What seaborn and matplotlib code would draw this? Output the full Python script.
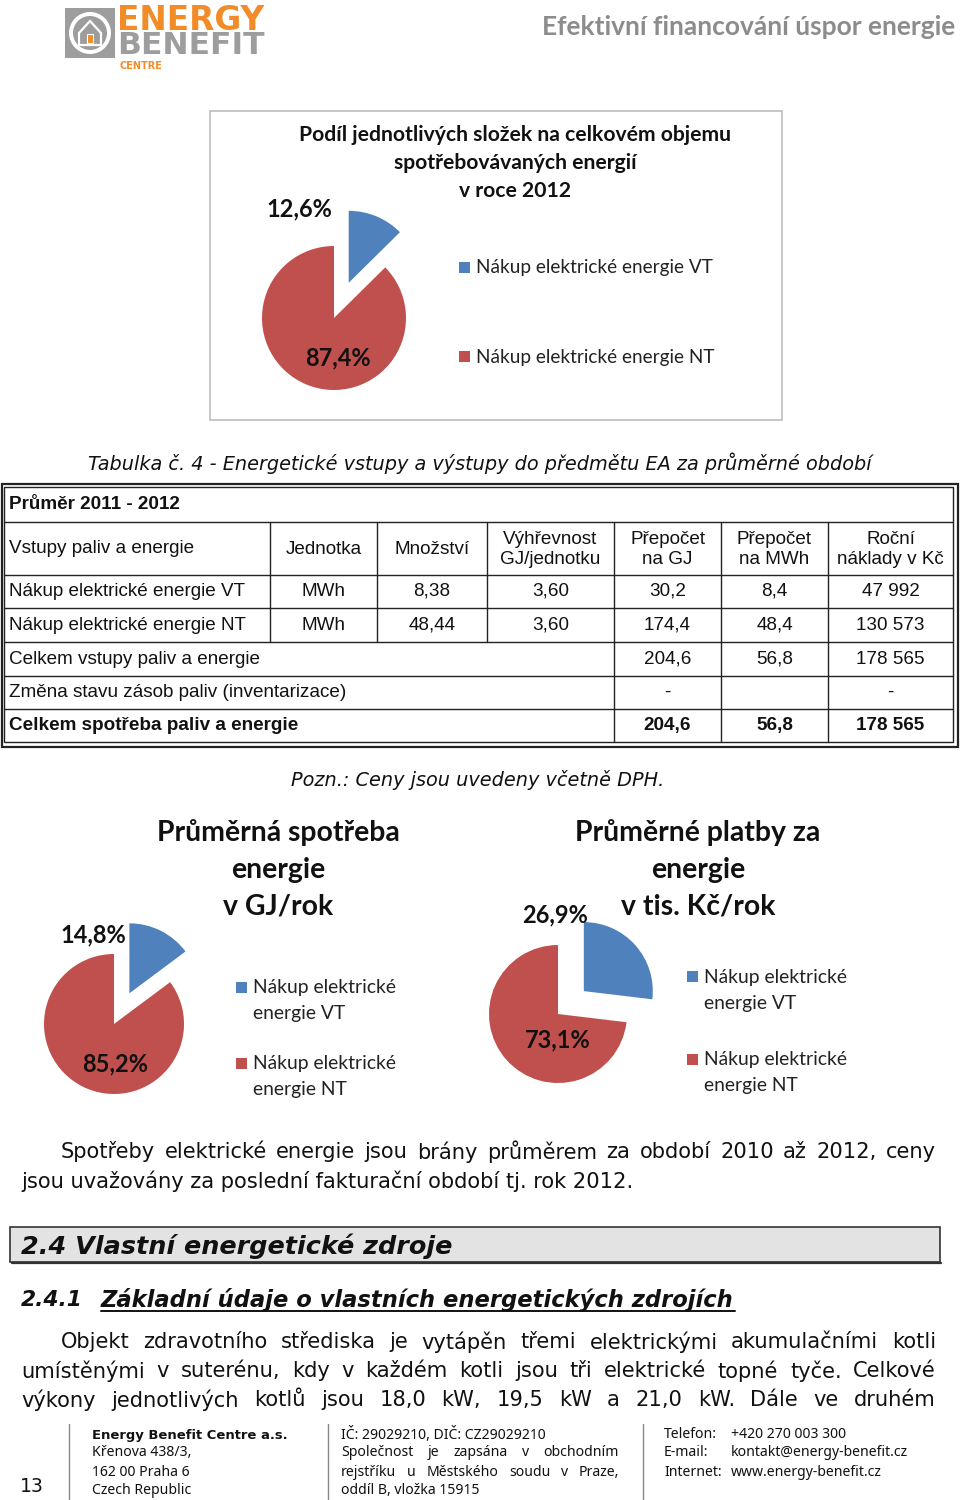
import matplotlib
matplotlib.use("Agg")
import matplotlib.pyplot as plt
import seaborn as sns
from matplotlib.patches import Rectangle, Circle, Polygon
from matplotlib.lines import Line2D

# --- data -----------------------------------------------------------------
pie_labels = ["Nákup elektrické energie VT", "Nákup elektrické energie NT"]
share_total = [12.6, 87.4]      # podíl na celkovém objemu, 2012
share_gj = [14.8, 85.2]         # průměrná spotřeba v GJ/rok
share_cost = [26.9, 73.1]       # průměrné platby v tis. Kč/rok

table_header = ["Vstupy paliv a energie", "Jednotka", "Množství",
                "Výhřevnost\nGJ/jednotku", "Přepočet\nna GJ", "Přepočet\nna MWh",
                "Roční\nnáklady v Kč"]
row_vt = ["Nákup elektrické energie VT", "MWh", "8,38", "3,60", "30,2", "8,4", "47 992"]
row_nt = ["Nákup elektrické energie NT", "MWh", "48,44", "3,60", "174,4", "48,4", "130 573"]
row_total_in = ["Celkem vstupy paliv a energie", "204,6", "56,8", "178 565"]
row_change = ["Změna stavu zásob paliv (inventarizace)", "-", "", "-"]
row_total = ["Celkem spotřeba paliv a energie", "204,6", "56,8", "178 565"]

W, H = 960, 1500
sns.set_theme(style="white")
plt.rcParams["font.family"] = ["DejaVu Sans"]
pie_colors = sns.color_palette(["#4F81BD", "#C0504D"])
CHART_FONT = "Lato"
TABLE_FONT = "Liberation Sans"
HEAD_FONT = "DejaVu Sans"
FOOT_FONT = "Noto Sans"
INK = "#111111"

fig = plt.figure(figsize=(W / 100, H / 100), dpi=100)
bg = fig.add_axes([0, 0, 1, 1])
bg.set_xlim(0, W)
bg.set_ylim(H, 0)
bg.axis("off")
bg.set_zorder(2)  # text layer above the pie axes
renderer = fig.canvas.get_renderer()


def put(x, y, s, size=12, width=None, **kw):
    kw.setdefault("va", "center")
    t = bg.text(x, y, s, fontsize=size, **kw)
    if width:
        w = t.get_window_extent(renderer).width
        t.set_fontsize(size * width / w)
    return t


def fit_size(s, width, **kw):
    t = bg.text(0, 0, s, fontsize=10, **kw)
    w = t.get_window_extent(renderer).width
    t.remove()
    return 10 * width / w


def justify(line, x0, x1, y, size, **kw):
    words = line.split()
    arts = [bg.text(0, y, w, fontsize=size, va="center", ha="left", **kw) for w in words]
    widths = [a.get_window_extent(renderer).width for a in arts]
    gap = (x1 - x0 - sum(widths)) / max(len(words) - 1, 1)
    x = x0
    for a, w in zip(arts, widths):
        a.set_x(x)
        x += w + gap


def hline(x0, x1, y, lw=1, color="#222222"):
    bg.add_line(Line2D([x0, x1], [y, y], lw=lw, color=color))


def vline(x, y0, y1, lw=1, color="#222222"):
    bg.add_line(Line2D([x, x], [y0, y1], lw=lw, color=color))


def draw_pie(cx, cy, r, values, explode=0.5):
    ax = fig.add_axes([(cx - 2 * r) / W, 1 - (cy + 2 * r) / H, 4 * r / W, 4 * r / H])
    ax.set_zorder(1)
    ax.pie(values, colors=pie_colors, startangle=90, counterclock=False,
           explode=[explode, 0], wedgeprops=dict(linewidth=0))
    ax.set_xlim(-2, 2)
    ax.set_ylim(-2, 2)
    ax.set_aspect("auto")
    ax.axis("off")
    return ax


def pct(v):
    return f"{v:.1f}%".replace(".", ",")


# --- header / logo ----------------------------------------------------------
orange = "#F28C28"
gray = "#9D9D9D"
bg.add_patch(Rectangle((65, 8), 50, 50, color=gray, lw=0))
bg.add_patch(Circle((90, 33), 21, color="white", lw=0))
bg.add_patch(Circle((90, 33), 17, color=gray, lw=0))
bg.add_patch(Polygon([[79, 33], [90, 21], [101, 33], [101, 45], [79, 45]],
                     closed=True, fc=gray, ec="white", lw=1.6))
bg.add_patch(Rectangle((87, 34), 6, 9, fc=orange, ec="white", lw=0.8))
put(191, 20, "ENERGY", 20, width=147, ha="center", color=orange, weight="bold")
put(191, 46, "BENEFIT", 20, width=147, ha="center", color=gray, weight="bold")
put(141, 66, "CENTRE", 7, width=43, ha="center", color=orange, weight="bold")
put(955, 27, "Efektivní financování úspor energie", 13, width=415, ha="right",
    color="#8C8C8C", weight="bold", family=CHART_FONT)

# --- chart 1 ----------------------------------------------------------------
bg.add_patch(Rectangle((210, 111), 572, 309, fill=False, ec="#BDBDBD", lw=1.2))
title_size = fit_size("Podíl jednotlivých složek na celkovém objemu", 432,
                      family=CHART_FONT, weight="bold")
for yy, s in zip([135, 163, 191], ["Podíl jednotlivých složek na celkovém objemu",
                                   "spotřebovávaných energií", "v roce 2012"]):
    put(515, yy, s, title_size, ha="center", family=CHART_FONT, weight="bold", color=INK)
draw_pie(334, 318, 72, share_total, explode=0.53)
pct_size = fit_size("12,6%", 66, family=CHART_FONT, weight="bold")
put(266, 209, pct(share_total[0]), pct_size, family=CHART_FONT, weight="bold", color=INK)
put(305, 358, pct(share_total[1]), pct_size, family=CHART_FONT, weight="bold", color=INK)
leg_size = fit_size(pie_labels[0], 238, family=CHART_FONT)
for yy, lab, col in zip([268, 357], pie_labels, pie_colors):
    bg.add_patch(Rectangle((459, yy - 6), 11, 11, color=col, lw=0))
    put(476, yy, lab, leg_size, family=CHART_FONT, color="#222222")

# --- table ------------------------------------------------------------------
put(88, 463, "Tabulka č. 4 - Energetické vstupy a výstupy do předmětu EA za průměrné období",
    12, width=780, style="italic", color=INK)

col_edges = [4, 270, 377, 487, 614, 721, 828, 953]
row_edges = [487, 522, 575, 608, 642, 676, 709, 742]
bg.add_patch(Rectangle((1.5, 483.5), 956.5, 263, fill=False, ec="#222222", lw=1.6))
bg.add_patch(Rectangle((4, 487), 949, 255, fill=False, ec="#222222", lw=1.0))
for y in row_edges[1:-1]:
    hline(4, 953, y, lw=1.0)
for x in col_edges[1:-1]:
    bottom = row_edges[4] if x < 614 else row_edges[-1]
    vline(x, row_edges[1], bottom, lw=1.0)

tsize = fit_size(row_vt[0], 238, family=TABLE_FONT)
tkw = dict(family=TABLE_FONT, color=INK)
centers = [(col_edges[i] + col_edges[i + 1]) / 2 for i in range(7)]
row_mid = [(row_edges[i] + row_edges[i + 1]) / 2 for i in range(7)]

put(9, row_mid[0], "Průměr 2011 - 2012", tsize, weight="bold", **tkw)
put(9, row_mid[1], table_header[0], tsize, **tkw)
for c in range(1, 7):
    put(centers[c], row_mid[1] + 1, table_header[c], tsize, ha="center",
        linespacing=1.25, multialignment="center", **tkw)
for r, row in zip([2, 3], [row_vt, row_nt]):
    put(9, row_mid[r], row[0], tsize, **tkw)
    for c in range(1, 7):
        put(centers[c], row_mid[r], row[c], tsize, ha="center", **tkw)
for r, row, wt in zip([4, 5, 6], [row_total_in, row_change, row_total],
                      ["normal", "normal", "bold"]):
    put(9, row_mid[r], row[0], tsize, weight=wt, **tkw)
    for c, val in zip([4, 5, 6], row[1:]):
        put(centers[c], row_mid[r], val, tsize, ha="center", weight=wt, **tkw)

put(291, 780, "Pozn.: Ceny jsou uvedeny včetně DPH.", 12, width=372,
    style="italic", color=INK)

# --- charts 2 and 3 -----------------------------------------------------------
big_size = fit_size("Průměrná spotřeba", 243, family=CHART_FONT, weight="bold")
small_leg = fit_size("Nákup elektrické", 143, family=CHART_FONT)
for cx_t, lines in [(278, ["Průměrná spotřeba", "energie", "v GJ/rok"]),
                    (698, ["Průměrné platby za", "energie", "v tis. Kč/rok"])]:
    for yy, s in zip([833, 870, 907], lines):
        put(cx_t, yy, s, big_size, ha="center", family=CHART_FONT, weight="bold", color=INK)

draw_pie(114, 1024, 70, share_gj, explode=0.49)
put(60, 935, pct(share_gj[0]), pct_size, family=CHART_FONT, weight="bold", color=INK)
put(82, 1064, pct(share_gj[1]), pct_size, family=CHART_FONT, weight="bold", color=INK)

draw_pie(558, 1014, 69, share_cost, explode=0.5)
put(522, 915, pct(share_cost[0]), pct_size, family=CHART_FONT, weight="bold", color=INK)
put(525, 1040, pct(share_cost[1]), pct_size, family=CHART_FONT, weight="bold", color=INK)

for lx, ys in [(236, [988, 1064]), (687, [977, 1060])]:
    for yy, lab, col in zip(ys, pie_labels, pie_colors):
        bg.add_patch(Rectangle((lx, yy - 6), 11, 11, color=col, lw=0))
        first, rest = lab.rsplit(" energie ", 1)
        put(lx + 17, yy, first, small_leg, family=CHART_FONT, color="#222222")
        put(lx + 17, yy + 26, "energie " + rest, small_leg, family=CHART_FONT, color="#222222")

# --- body text ----------------------------------------------------------------
body = fit_size("jsou uvažovány za poslední fakturační období tj. rok 2012.", 617)
justify("Spotřeby elektrické energie jsou brány průměrem za období 2010 až 2012, ceny",
        61, 936, 1152, body, color=INK)
put(21, 1181, "jsou uvažovány za poslední fakturační období tj. rok 2012.", body, color=INK)

bg.add_patch(Rectangle((10, 1227), 930, 35, fc="#E3E3E3", ec="#333333", lw=1.2))
hline(12, 941, 1263, lw=1.6, color="#333333")
put(21, 1246, "2.4 Vlastní energetické zdroje", 17, width=431, weight="bold",
    style="italic", family=HEAD_FONT, color=INK)
put(21, 1300, "2.4.1", 15, width=62, weight="bold", style="italic", family=HEAD_FONT,
    color=INK)
put(101, 1300, "Základní údaje o vlastních energetických zdrojích", 15, width=634,
    weight="bold", style="italic", family=HEAD_FONT, color=INK)
hline(101, 735, 1311, lw=1.4, color=INK)

justify("Objekt zdravotního střediska je vytápěn třemi elektrickými akumulačními kotli",
        61, 936, 1342, body, color=INK)
justify("umístěnými v suterénu, kdy v každém kotli jsou tři elektrické topné tyče. Celkové",
        21, 936, 1371, body, color=INK)
justify("výkony jednotlivých kotlů jsou 18,0 kW, 19,5 kW a 21,0 kW. Dále ve druhém",
        21, 936, 1400, body, color=INK)

# --- footer -------------------------------------------------------------------
for x in [69, 328, 643]:
    vline(x, 1424, 1500, lw=1.0, color="#888888")
put(20, 1487, "13", 15, width=24, color=INK)
fsize = fit_size("Křenova 438/3,", 99, family=FOOT_FONT)
fkw = dict(family=FOOT_FONT, color=INK)
put(92, 1435, "Energy Benefit Centre a.s.", fsize, width=194, weight="bold",
    family="DejaVu Sans", color=INK)
for yy, s in zip([1453, 1472, 1491], ["Křenova 438/3,", "162 00 Praha 6", "Czech Republic"]):
    put(92, yy, s, fsize, **fkw)
put(341, 1435, "IČ: 29029210, DIČ: CZ29029210", fsize, **fkw)
justify("Společnost je zapsána v obchodním", 341, 619, 1453, fsize, **fkw)
justify("rejstříku u Městského soudu v Praze,", 341, 619, 1472, fsize, **fkw)
put(341, 1491, "oddíl B, vložka 15915", fsize, **fkw)
for yy, k, v in zip([1435, 1453, 1472], ["Telefon:", "E-mail:", "Internet:"],
                    ["+420 270 003 300", "kontakt@energy-benefit.cz", "www.energy-benefit.cz"]):
    put(664, yy, k, fsize, **fkw)
    put(731, yy, v, fsize, **fkw)

fig.savefig("out.png", dpi=100)
